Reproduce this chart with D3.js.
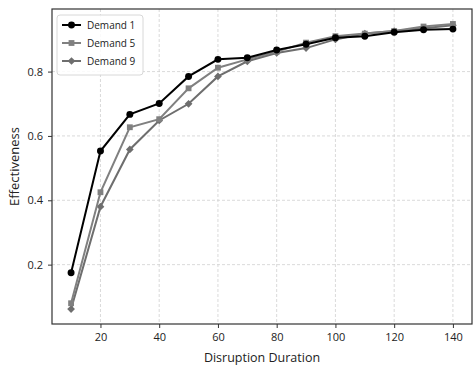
<!DOCTYPE html>
<html><head><meta charset="utf-8">
<script src="https://cdn.jsdelivr.net/npm/d3@7"></script>
<style>body{margin:0;background:#fff}svg{display:block}text{font-family:"Open Sans",sans-serif}</style>
</head><body><svg id="c" width="474" height="366"></svg>
<script>
const durations = [10,20,30,40,50,60,70,80,90,100,110,120,130,140];
const demand1 = [0.175,0.553,0.667,0.701,0.785,0.838,0.843,0.867,0.885,0.905,0.910,0.922,0.930,0.932];
const demand5 = [0.080,0.425,0.627,0.652,0.748,0.812,0.838,0.862,0.890,0.910,0.918,0.926,0.940,0.948];
const demand9 = [0.062,0.380,0.558,0.648,0.700,0.785,0.832,0.858,0.873,0.900,0.918,0.926,0.935,0.944];
const seriesNames = ["Demand 1","Demand 5","Demand 9"];
const xTicks = [20,40,60,80,100,120,140];
const yTicks = [0.2,0.4,0.6,0.8];

const series = [
  {name:seriesNames[0], values:demand1, color:"#000000", marker:"circle"},
  {name:seriesNames[1], values:demand5, color:"#808080", marker:"square"},
  {name:seriesNames[2], values:demand9, color:"#6e6e6e", marker:"diamond"}
];

const svg = d3.select("#c");
const L=52, R=472, T=9, B=324;
const x = d3.scaleLinear().domain([3.5,146.5]).range([L,R]);
const y = d3.scaleLinear().domain([0.0155,0.9945]).range([B,T]);

// grid
const g = svg.append("g");
g.selectAll(".gx").data(xTicks).join("line")
  .attr("x1",d=>x(d)).attr("x2",d=>x(d)).attr("y1",T).attr("y2",B)
  .attr("stroke","#d0d0d0").attr("stroke-width",0.8).attr("stroke-dasharray","3,2");
g.selectAll(".gy").data(yTicks).join("line")
  .attr("y1",d=>y(d)).attr("y2",d=>y(d)).attr("x1",L).attr("x2",R)
  .attr("stroke","#d0d0d0").attr("stroke-width",0.8).attr("stroke-dasharray","3,2");

// axes
const xa = svg.append("g").attr("transform",`translate(0,${B})`)
  .call(d3.axisBottom(x).tickValues(xTicks).tickSize(4).tickPadding(5).tickFormat(d3.format("d")));
const ya = svg.append("g").attr("transform",`translate(${L},0)`)
  .call(d3.axisLeft(y).tickValues(yTicks).tickSize(4).tickPadding(5).tickFormat(d3.format(".1f")));
[xa,ya].forEach(a=>{
  a.select(".domain").remove();
  a.selectAll("line").attr("stroke","#333");
  a.selectAll("text").attr("fill","#222").style("font-size","11px");
});

// lines and markers
const line = d3.line().x((d,i)=>x(durations[i])).y(d=>y(d));
const sym = {circle:d3.symbolCircle, square:d3.symbolSquare, diamond:d3.symbolSquare};
const symSize = {circle:38, square:34, diamond:30};
const rot = {circle:0, square:0, diamond:45};
series.slice().reverse().forEach(s=>{
  svg.append("path").datum(s.values).attr("d",line)
    .attr("fill","none").attr("stroke",s.color).attr("stroke-width",2);
  svg.selectAll(null).data(s.values).join("path")
    .attr("transform",(d,i)=>`translate(${x(durations[i])},${y(d)}) rotate(${rot[s.marker]})`)
    .attr("d",d3.symbol().type(sym[s.marker]).size(symSize[s.marker]))
    .attr("fill",s.color);
});

// frame
svg.append("rect").attr("x",L).attr("y",T).attr("width",R-L).attr("height",B-T)
  .attr("fill","none").attr("stroke","#333").attr("stroke-width",1.2);

// legend
const lg = svg.append("g").attr("transform","translate(57,15)");
lg.append("rect").attr("width",86).attr("height",60).attr("rx",3)
  .attr("fill","#fff").attr("fill-opacity",0.85).attr("stroke","#d8d8d8");
series.forEach((s,i)=>{
  const yy = 10+i*18;
  lg.append("line").attr("x1",5).attr("x2",24).attr("y1",yy).attr("y2",yy)
    .attr("stroke",s.color).attr("stroke-width",2);
  lg.append("path").attr("transform",`translate(14.5,${yy}) rotate(${rot[s.marker]})`)
    .attr("d",d3.symbol().type(sym[s.marker]).size(symSize[s.marker])).attr("fill",s.color);
  lg.append("text").attr("x",30).attr("y",yy).attr("dy","0.35em")
    .style("font-size","10px").attr("fill","#222").text(s.name);
});

// axis labels
svg.append("text").attr("x",(L+R)/2).attr("y",362).attr("text-anchor","middle")
  .style("font-size","12.5px").attr("fill","#222").text("Disruption Duration");
svg.append("text").attr("transform",`translate(19,${(T+B)/2}) rotate(-90)`)
  .attr("text-anchor","middle").style("font-size","13px").attr("fill","#222").text("Effectiveness");
</script></body></html>
